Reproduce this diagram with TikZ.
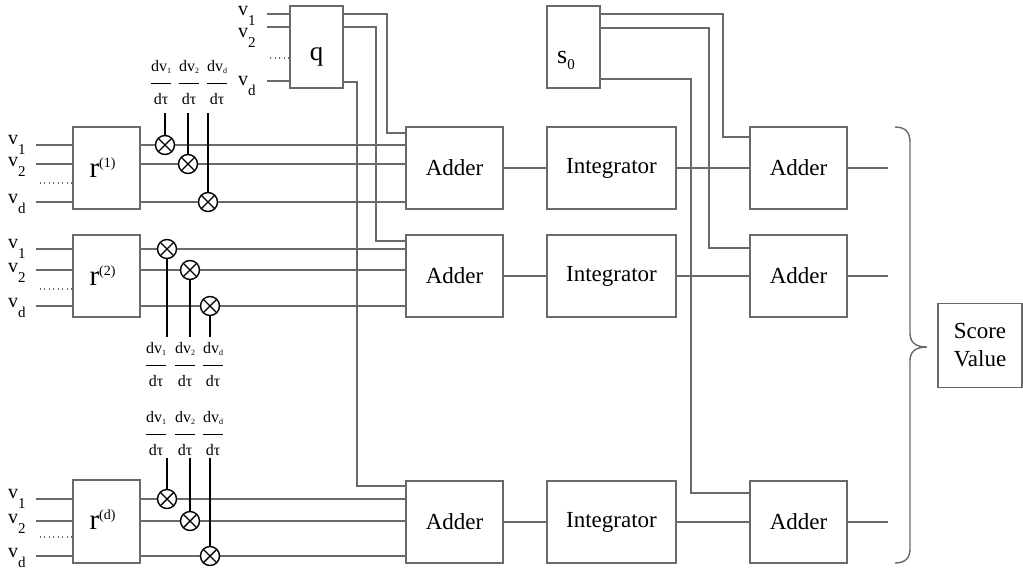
\documentclass[tikz,border=0pt]{standalone}
\usepackage{fontspec}
\setmainfont{Liberation Serif}
\setlength{\arrayrulewidth}{1pt}
\definecolor{wg}{RGB}{105,105,105}
\newcommand\vlab[1]{v\raisebox{-10pt}{\fontsize{15}{15}\selectfont #1}}
\newcommand\rlab[1]{{\fontsize{29}{30}\selectfont r}\raisebox{10pt}{\fontsize{14}{14}\selectfont (#1)}}
\newcommand\frc[1]{\begin{tabular}[t]{@{}c@{}}\rule[-12pt]{0pt}{12pt}dv\raisebox{-2pt}{\fontsize{8}{8}\selectfont #1}\hspace{1.5pt}\\\hline\rule{0pt}{20pt}dτ\end{tabular}}
\tikzset{
  wire/.style={draw=wg, line width=1.4pt},
  stem/.style={draw=black, line width=1.4pt},
  dotl/.style={draw=wg, line width=1.2pt, dash pattern=on 1pt off 3.5pt},
  box/.style={draw=wg, line width=1.4pt, fill=white, inner sep=0pt, font=\fontsize{23}{28}\selectfont},
  ox/.style={circle, draw=black, fill=white, line width=1.4pt, minimum size=19pt, inner sep=0pt,
    path picture={\draw[line width=1.4pt] (path picture bounding box.north west) -- (path picture bounding box.south east)
      (path picture bounding box.north east) -- (path picture bounding box.south west);}},
  fr/.style={anchor=base, inner sep=0pt, font=\fontsize{16}{19}\selectfont},
  vl/.style={anchor=base west, inner sep=0pt, font=\fontsize{20}{24}\selectfont},
  lab/.style={anchor=base, inner sep=0pt, font=\fontsize{23}{28}\selectfont}
}
\begin{document}
\begin{tikzpicture}[x=1pt,y=-1pt]
\useasboundingbox (0,0) rectangle (1023,574);

% ---------- boxes ----------
\node[box, minimum width=67, minimum height=82] (r1) at (106.5,168) {};
\node[box, minimum width=67, minimum height=82] (r2) at (106.5,276) {};
\node[box, minimum width=67, minimum height=83] (r3) at (106.5,521.5) {};
\node[lab] (rl1) at (102.5,177) {\rlab{1}};
\node[lab] (rl2) at (102.5,285) {\rlab{2}};
\node[lab] (rl3) at (102.5,529) {\rlab{d}};

\node[box, minimum width=53, minimum height=82] (q) at (316.5,47) {};
\node[lab, font=\fontsize{27}{30}\selectfont] (ql) at (316.5,60) {q};
\node[box, minimum width=53, minimum height=82] (s0) at (573.5,47) {};
\node[lab, anchor=base west, font=\fontsize{26}{28}\selectfont] (sl) at (557,63) {s\raisebox{-6pt}{\fontsize{15}{15}\selectfont 0}};

\foreach \k/\y/\h in {1/168/82, 2/276/82, 3/522/82}{
  \node[box, minimum width=97, minimum height=\h] (a\k) at (454.5,\y) {Adder};
  \node[box, minimum width=129, minimum height=\h] (i\k) at (611.5,\y) {Integrator};
  \node[box, minimum width=97, minimum height=\h] (ra\k) at (798.5,\y) {Adder};
}
\node[box, minimum width=84, minimum height=84, align=left] (sv) at (980,345.5) {Score\\Value};

% ---------- q inputs ----------
\node[vl] (qv1) at (238,15) {\vlab{1}};
\node[vl] (qv2) at (238,37) {\vlab{2}};
\node[vl] (qvd) at (238,85) {\vlab{d}};
\draw[wire] (q.west |- 0,14) -- ++(-22,0);
\draw[wire] (q.west |- 0,27) -- ++(-22,0);
\draw[wire] (q.west |- 0,81) -- ++(-22,0);
\draw[dotl] (q.west |- 0,58) -- ++(-22,0);

% ---------- row inputs and wires ----------
\foreach \k/\ya/\yb/\yd/\yo in {1/145/164/202/183, 2/249/270/306/289, 3/499/521/556/537}{
  \node[vl] (lv\k a) at (8,\ya-1) {\vlab{1}};
  \node[vl] (lv\k b) at (8,\yb+2) {\vlab{2}};
  \node[vl] (lv\k d) at (8,\yd+1) {\vlab{d}};
  \draw[wire] (r\k.west |- 0,\ya) -- ++(-36,0);
  \draw[wire] (r\k.west |- 0,\yb) -- ++(-36,0);
  \draw[wire] (r\k.west |- 0,\yd) -- ++(-36,0);
  \draw[dotl] (r\k.west |- 0,\yo) -- ++(-36,0);
  \draw[wire] (r\k.east |- 0,\ya) -- (a\k.west |- 0,\ya);
  \draw[wire] (r\k.east |- 0,\yb) -- (a\k.west |- 0,\yb);
  \draw[wire] (r\k.east |- 0,\yd) -- (a\k.west |- 0,\yd);
}

% ---------- q outputs ----------
\draw[wire] (q.east |- 0,14) -- (387,14) -- (387,133) -- (a1.west |- 0,133);
\draw[wire] (q.east |- 0,27) -- (376,27) -- (376,241) -- (a2.west |- 0,241);
\draw[wire] (q.east |- 0,82) -- (357,82) -- (357,486) -- (a3.west |- 0,486);

% ---------- s0 outputs ----------
\draw[wire] (s0.east |- 0,14) -- (723,14) -- (723,137) -- (ra1.west |- 0,137);
\draw[wire] (s0.east |- 0,28) -- (709,28) -- (709,248) -- (ra2.west |- 0,248);
\draw[wire] (s0.east |- 0,79) -- (691,79) -- (691,493) -- (ra3.west |- 0,493);

% ---------- chain ----------
\foreach \k/\y in {1/168, 2/276, 3/522}{
  \draw[wire] (a\k) -- (i\k);
  \draw[wire] (i\k) -- (ra\k);
  \coordinate (o\k) at (888,\y);
  \draw[wire] (ra\k) -- (o\k);
}

% ---------- multipliers ----------
\node[ox] (c11) at (165,145) {};
\node[ox] (c12) at (188,164) {};
\node[ox] (c13) at (208,202) {};
\node[ox] (c21) at (167,249) {};
\node[ox] (c22) at (190,270) {};
\node[ox] (c23) at (210,306) {};
\node[ox] (c31) at (167,499) {};
\node[ox] (c32) at (190,521) {};
\node[ox] (c33) at (210,556) {};

\node[fr] (f11) at (161,71) {\frc{1}};
\node[fr] (f12) at (189,71) {\frc{2}};
\node[fr] (f13) at (217,71) {\frc{d}};
\node[fr] (f21) at (156,353) {\frc{1}};
\node[fr] (f22) at (185,353) {\frc{2}};
\node[fr] (f23) at (213,353) {\frc{d}};
\node[fr] (f31) at (156,422) {\frc{1}};
\node[fr] (f32) at (185,422) {\frc{2}};
\node[fr] (f33) at (213,422) {\frc{d}};

\coordinate (t11) at (165,113); \coordinate (t12) at (188,113); \coordinate (t13) at (208,113);
\coordinate (t21) at (167,337); \coordinate (t22) at (190,337); \coordinate (t23) at (210,337);
\coordinate (t31) at (167,458); \coordinate (t32) at (190,458); \coordinate (t33) at (210,458);
\foreach \k in {11,12,13,21,22,23,31,32,33}{
  \draw[stem] (c\k) -- (t\k);
}

% ---------- brace ----------
\draw[wire] (895,127) .. controls (905,127) and (910,132) .. (910,142) -- (910,333)
  .. controls (910,342) and (915,347) .. (927,347)
  .. controls (915,347) and (910,352) .. (910,361) -- (910,549)
  .. controls (910,558) and (905,563) .. (895,563);
\end{tikzpicture}
\end{document}
